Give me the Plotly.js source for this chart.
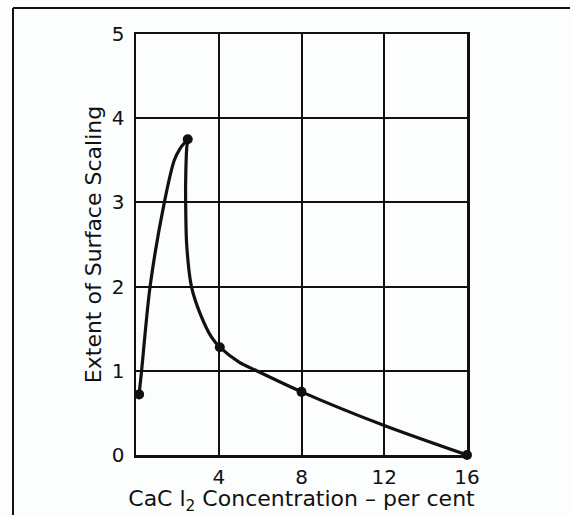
<!DOCTYPE html>
<html>
<head>
<meta charset="utf-8">
<script src="https://cdn.plot.ly/plotly-3.0.1.min.js"></script>
<style>html,body{margin:0;padding:0;background:#fcfdfd;}#chart{width:570px;height:515px;}</style>
</head>
<body>
<div id="chart"></div>
<script>
// Measured data points (CaCl2 concentration %, extent of surface scaling)
const pointX = [0.15, 2.5, 4.05, 8, 16];
const pointY = [0.72, 3.75, 1.28, 0.75, 0];

// Traced hand-drawn curve: rising branch to the peak
const riseX = [0.15, 0.27, 0.68, 1.37, 1.85, 2.13, 2.5];
const riseY = [0.72, 1.0, 2.0, 3.0, 3.5, 3.64, 3.75];
// Traced falling branch from the peak to 16 %
const fallX = [2.5, 2.45, 2.40, 2.40, 2.45, 2.68, 3.1, 3.65, 4.05, 5.0, 5.83, 8.0, 12.0, 16.0];
const fallY = [3.75, 3.64, 3.24, 3.0, 2.5, 2.0, 1.68, 1.4, 1.28, 1.1, 1.0, 0.75, 0.35, 0];

const xTickVals = [4, 8, 12, 16];
const xTickText = ['4', '8', '12', '16'];
const yTickVals = [0, 1, 2, 3, 4, 5];
const yTickText = ['0', '1', '2', '3', '4', '5'];

const xTitle = 'CaC l<sub>2</sub> Concentration – per cent';
const yTitle = 'Extent of Surface Scaling';

const fam = 'DejaVu Sans, sans-serif';
const ink = '#111';

const traces = [
  {x: riseX, y: riseY, mode: 'lines', line: {color: ink, width: 3.2, shape: 'spline', smoothing: 0.8}, hoverinfo: 'skip', showlegend: false},
  {x: fallX, y: fallY, mode: 'lines', line: {color: ink, width: 3.2, shape: 'spline', smoothing: 0.8}, hoverinfo: 'skip', showlegend: false},
  {x: pointX, y: pointY, mode: 'markers', marker: {color: ink, size: 10}, showlegend: false, cliponaxis: false}
];

const W = 570, H = 515, L = 136, R = 103, T = 34, B = 60;
const pw = W - L - R, ph = H - T - B;
const px = v => (v - L) / pw;
const py = v => (H - B - v) / ph;

const layout = {
  width: W, height: H,
  margin: {l: L, r: R, t: T, b: B, pad: 0},
  paper_bgcolor: '#fcfdfd',
  plot_bgcolor: '#fcfdfd',
  font: {family: fam, color: ink, size: 20},
  showlegend: false,
  xaxis: {
    range: [0, 16], tickvals: xTickVals, ticktext: xTickText,
    showgrid: true, gridcolor: ink, gridwidth: 2,
    showline: true, linecolor: ink, linewidth: 2.5, mirror: true,
    zeroline: false, ticks: '', ticklabelstandoff: 2,
    tickfont: {size: 20, family: fam, color: ink},
    title: {text: xTitle, font: {size: 22, family: fam, color: ink}, standoff: 2},
    fixedrange: true
  },
  yaxis: {
    range: [0, 5], tickvals: yTickVals, ticktext: yTickText,
    showgrid: true, gridcolor: ink, gridwidth: 2,
    showline: true, linecolor: ink, linewidth: 2.5, mirror: true,
    zeroline: false, ticks: '', ticklabelstandoff: 5,
    tickfont: {size: 20, family: fam, color: ink},
    title: {text: yTitle, font: {size: 22, family: fam, color: ink}, standoff: 4},
    fixedrange: true
  },
  shapes: [
    {type: 'line', xref: 'paper', yref: 'paper', x0: px(13), x1: px(572), y0: py(8), y1: py(8), line: {color: ink, width: 2}},
    {type: 'line', xref: 'paper', yref: 'paper', x0: px(13), x1: px(13), y0: py(8), y1: py(516), line: {color: ink, width: 2}}
  ]
};

Plotly.newPlot('chart', traces, layout, {displayModeBar: false, staticPlot: true});
</script>
</body>
</html>
